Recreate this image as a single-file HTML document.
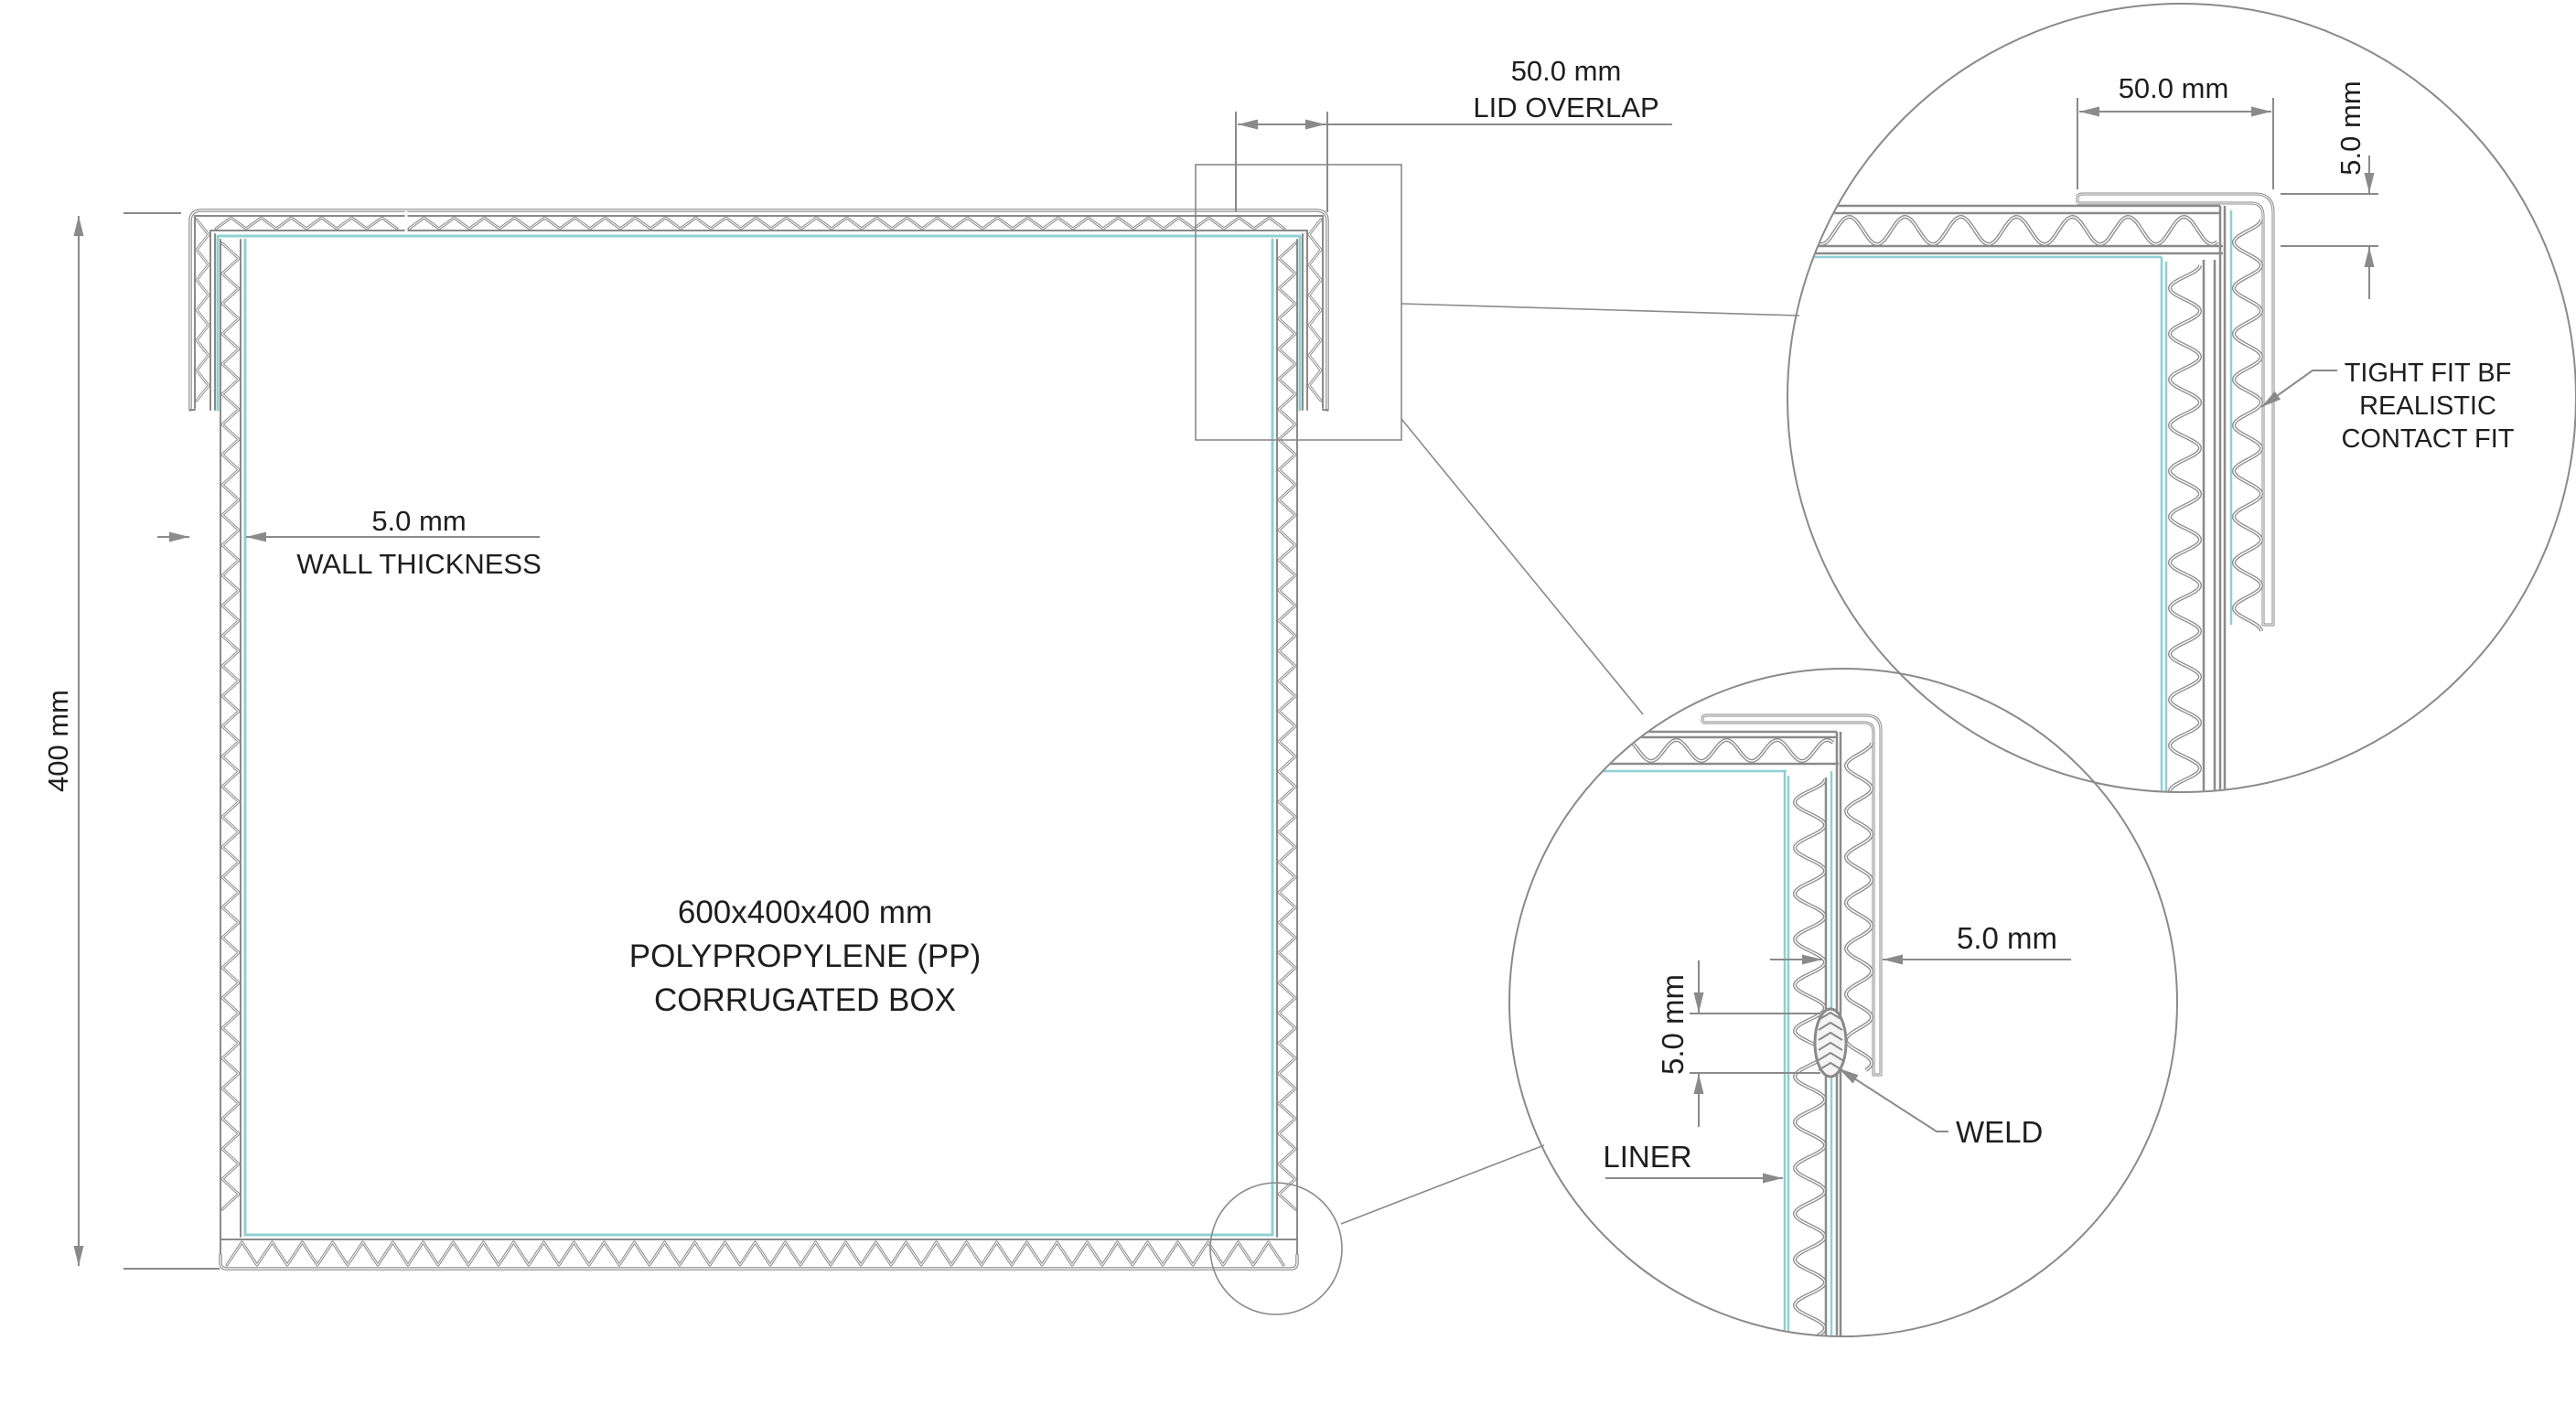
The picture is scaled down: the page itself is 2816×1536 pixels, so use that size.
<!DOCTYPE html>
<html><head><meta charset="utf-8">
<style>
html,body{margin:0;padding:0;background:#fff;}
svg{display:block;}
text{font-family:"Liberation Sans",sans-serif;fill:#1e1e1e;}
</style></head>
<body>
<svg id="s" width="2816" height="1536" viewBox="0 0 2816 1536" xmlns="http://www.w3.org/2000/svg">
<defs>
<marker id="ar2" viewBox="0 0 10 10" refX="10" refY="5" markerWidth="22" markerHeight="11" markerUnits="userSpaceOnUse" orient="auto-start-reverse" preserveAspectRatio="none">
<path d="M0,0 L10,5 L0,10 Z" fill="#8a8a8a"/></marker>
<clipPath id="cb"><circle cx="2385" cy="435" r="430"/></clipPath>
<clipPath id="cl"><circle cx="2015" cy="1096" r="364"/></clipPath>
</defs>
<rect width="2816" height="1536" fill="#fff"/>
<g id="main" fill="none" stroke-linecap="round" stroke-linejoin="round"></g>
<g id="big" clip-path="url(#cb)" fill="none" stroke-linejoin="round"></g>
<g id="low" clip-path="url(#cl)" fill="none" stroke-linejoin="round"></g>
<g id="ann" fill="none" stroke="#8a8a8a" stroke-width="2">
  <line x1="135" y1="233" x2="198" y2="233"/><line x1="135" y1="1387" x2="240" y2="1387"/>
  <line x1="86" y1="236" x2="86" y2="1384" marker-start="url(#ar2)" marker-end="url(#ar2)"/>
  <line x1="172" y1="587" x2="207" y2="587" marker-end="url(#ar2)"/>
  <line x1="590" y1="587" x2="269" y2="587" marker-end="url(#ar2)"/>
  <line x1="1351" y1="122" x2="1351" y2="232"/><line x1="1451" y1="122" x2="1451" y2="232"/>
  <line x1="1353" y1="136" x2="1449" y2="136" marker-start="url(#ar2)" marker-end="url(#ar2)"/>
  <line x1="1449" y1="136" x2="1828" y2="136"/>
  <rect x="1307" y="180" width="225" height="301" stroke-width="1.6"/>
  <line x1="1532" y1="332" x2="1967" y2="345" stroke-width="1.6"/>
  <line x1="1532" y1="458" x2="1796" y2="781" stroke-width="1.6"/>
  <circle cx="1395" cy="1365" r="72" stroke-width="1.6"/>
  <line x1="1466" y1="1338" x2="1688" y2="1252" stroke-width="1.6"/>
  <circle cx="2385" cy="435" r="431" stroke-width="2"/>
  <circle cx="2015" cy="1096" r="365" stroke-width="2"/>
  <line x1="2271" y1="107" x2="2271" y2="207"/><line x1="2485" y1="107" x2="2485" y2="207"/>
  <line x1="2273" y1="122" x2="2483" y2="122" marker-start="url(#ar2)" marker-end="url(#ar2)"/>
  <line x1="2493" y1="212" x2="2600" y2="212"/><line x1="2493" y1="269" x2="2600" y2="269"/>
  <line x1="2590" y1="170" x2="2590" y2="211" marker-end="url(#ar2)"/>
  <line x1="2590" y1="327" x2="2590" y2="270" marker-end="url(#ar2)"/>
  <polyline points="2555,405 2528,405 2472,445" marker-end="url(#ar2)"/>
  <line x1="1935" y1="1049" x2="1992" y2="1049" marker-end="url(#ar2)"/>
  <line x1="2264" y1="1049" x2="2058" y2="1049" marker-end="url(#ar2)"/>
  <line x1="1847" y1="1108" x2="1990" y2="1108"/><line x1="1847" y1="1173" x2="1990" y2="1173"/>
  <line x1="1857" y1="1050" x2="1857" y2="1107" marker-end="url(#ar2)"/>
  <line x1="1857" y1="1232" x2="1857" y2="1174" marker-end="url(#ar2)"/>
  <polyline points="2130,1237 2117,1237 2010,1168" marker-end="url(#ar2)"/>
  <line x1="1755" y1="1288" x2="1949" y2="1288" marker-end="url(#ar2)"/>
</g>
<g id="txt">
  <text x="74" y="810" font-size="31" text-anchor="middle" transform="rotate(-90 74 810)">400 mm</text>
  <text x="458" y="580" font-size="31" text-anchor="middle">5.0 mm</text>
  <text x="458" y="627" font-size="31" text-anchor="middle">WALL THICKNESS</text>
  <text x="1712" y="88" font-size="31" text-anchor="middle">50.0 mm</text>
  <text x="1712" y="128" font-size="31" text-anchor="middle">LID OVERLAP</text>
  <text x="880" y="1009" font-size="35" text-anchor="middle">600x400x400 mm</text>
  <text x="880" y="1057" font-size="35" text-anchor="middle">POLYPROPYLENE (PP)</text>
  <text x="880" y="1105" font-size="35" text-anchor="middle">CORRUGATED BOX</text>
  <text x="2376" y="107" font-size="31" text-anchor="middle">50.0 mm</text>
  <text x="2580" y="140" font-size="31" text-anchor="middle" transform="rotate(-90 2580 140)">5.0 mm</text>
  <text x="2654" y="417" font-size="29" text-anchor="middle">TIGHT FIT BF</text>
  <text x="2654" y="453" font-size="29" text-anchor="middle">REALISTIC</text>
  <text x="2654" y="489" font-size="29" text-anchor="middle">CONTACT FIT</text>
  <text x="2194" y="1037" font-size="33" text-anchor="middle">5.0 mm</text>
  <text x="1840" y="1120" font-size="33" text-anchor="middle" transform="rotate(-90 1840 1120)">5.0 mm</text>
  <text x="2138" y="1249" font-size="33">WELD</text>
  <text x="1801" y="1276" font-size="33" text-anchor="middle">LINER</text>
</g>
<script>
(function(){
var NS="http://www.w3.org/2000/svg";
function add(g,d,stroke,w,extra){var p=document.createElementNS(NS,"path");p.setAttribute("d",d);p.setAttribute("stroke",stroke);p.setAttribute("stroke-width",w);if(extra)p.setAttribute("fill",extra);document.getElementById(g).appendChild(p);return p;}
function dbl(g,d,w){add(g,d,"#8a8a8a",w||4);add(g,d,"#ffffff",(w||4)*0.35);}
function L(x1,y1,x2,y2){return "M"+x1+","+y1+" L"+x2+","+y2;}
function hZig(x1,x2,y1,y2,p){var d="M"+x1+","+y2;for(var x=x1;x+p<=x2+0.1;x+=p){d+=" L"+(x+p/2)+","+y1+" L"+(x+p)+","+y2;}return d;}
function vZig(y1,y2,x1,x2,p){var d="M"+x1+","+y1;for(var y=y1;y+p<=y2+0.1;y+=p){d+=" L"+x2+","+(y+p/2)+" L"+x1+","+(y+p);}return d;}
function hWave(x1,x2,y1,y2,p){var m=(y1+y2)/2,a=(y2-y1)/2,d="";for(var x=x1;x<=x2;x+=2){var y=m+a*Math.cos((x-x1)/p*2*Math.PI);d+=(d?" L":"M")+x.toFixed(1)+","+y.toFixed(1);}return d;}
function vWave(y1,y2,x1,x2,p){var m=(x1+x2)/2,a=(x2-x1)/2,d="";for(var y=y1;y<=y2;y+=2){var x=m+a*Math.cos((y-y1)/p*2*Math.PI);d+=(d?" L":"M")+x.toFixed(1)+","+y.toFixed(1);}return d;}
var G="#8a8a8a",C="#8fd0d3";
dbl("main","M208,448 L208,242 Q208,230 220,230 L1439,230 Q1451,230 1451,242 L1451,448",3.5);
add("main",L(213,236,1446,236),G,2);
add("main",L(230,252,1429,252),G,2);
dbl("main",hZig(236,441,238,250,33),3);
dbl("main",hZig(447,1424,238,250,33),3);
add("main",L(444,232,444,254),"#fff",3);
add("main",L(213,236,213,446),G,2);add("main",L(1446,236,1446,446),G,2);
add("main",L(230,252,230,448),G,2);add("main",L(1429,252,1429,448),G,2);
add("main",L(235,256,235,448),G,2);add("main",L(1424,256,1424,448),G,2);
add("main",L(208,448,213,448),G,2);add("main",L(1446,448,1451,448),G,2);
dbl("main",vZig(240,440,215,228,33),3);dbl("main",vZig(240,440,1444,1431,33),3);
add("main",L(238,258,1421,258),C,3);
add("main",L(238,258,238,448),C,3);add("main",L(1421,258,1421,448),C,3);
add("main",L(241,262,241,1378),G,2);add("main",L(263,262,263,1352),G,2);
add("main",L(1396,262,1396,1352),G,2);add("main",L(1418,262,1418,1378),G,2);
dbl("main",vZig(266,1345,243,261,33),3);dbl("main",vZig(266,1345,1416,1398,33),3);
add("main",L(268,262,268,1350),C,3);add("main",L(1391,262,1391,1350),C,3);
add("main",L(268,1350,1391,1350),C,3);
add("main",L(241,1355,1418,1355),G,2);
dbl("main","M241,1372 L241,1380 Q241,1387 248,1387 L1411,1387 Q1418,1387 1418,1380 L1418,1372",3.5);
dbl("main",hZig(248,1411,1358,1383,33),3);
add("big",L(1940,225,2427,225),G,2.5);add("big",L(1940,233,2427,233),G,2.5);
dbl("big",hWave(1930,2425,237,267,61),4);
add("big",L(1940,269,2430,269),G,2.5);add("big",L(1940,277,2430,277),G,2.5);
add("big",L(1940,281,2363,281),C,2.5);
dbl("big","M2271,222 L2271,217 Q2271,212 2276,212 L2465,212 Q2485,212 2485,232 L2485,683 L2474,683 L2474,236 Q2474,222 2461,222 L2271,222",3);
add("big",L(2427,225,2427,870),G,2.5);add("big",L(2432,225,2432,870),G,2.5);
add("big",L(2439,230,2439,683),C,2.5);
dbl("big",vWave(240,690,2442,2472,50),4);
add("big",L(2363,281,2363,870),C,2.5);add("big",L(2368,286,2368,870),C,2.5);
dbl("big",vWave(290,870,2372,2405,50),4);
add("big",L(2409,284,2409,870),G,2.5);add("big",L(2421,284,2421,870),G,2.5);
add("low",L(1640,800,2008,800),G,2.5);add("low",L(1640,806,2008,806),G,2.5);
dbl("low",hWave(1640,2005,809,832,55),4);
add("low",L(1640,835,2010,835),G,2.5);
add("low",L(1640,843,1953,843),C,2.5);
dbl("low","M1861,790 L1861,786 Q1861,782 1866,782 L2040,782 Q2056,782 2056,798 L2056,1175 L2048,1175 L2048,800 Q2048,790 2038,790 L1861,790",3);
add("low",L(2008,800,2008,1470),G,2.5);add("low",L(2012,800,2012,1470),G,2.5);
dbl("low",vWave(812,1170,2018,2046,50),4);
add("low",L(1951,843,1951,1470),C,2.5);add("low",L(1955,848,1955,1470),C,2.5);
dbl("low",vWave(852,1470,1962,1995,50),4);
add("low",L(1996,850,1996,1470),G,2.5);
add("low",L(2002,843,2002,1470),C,2.5);
var e=document.createElementNS(NS,"ellipse");e.setAttribute("cx","2001");e.setAttribute("cy","1140");e.setAttribute("rx","17");e.setAttribute("ry","37");e.setAttribute("fill","#f4f4f4");e.setAttribute("stroke",G);e.setAttribute("stroke-width","3");document.getElementById("low").appendChild(e);
var hd="";for(var y=1115;y<=1170;y+=11){hd+=" M1988,"+y+" L2001,"+(y-8)+" L2014,"+y;}
add("low",hd,G,2);
})();
</script>
</svg>
</body></html>
